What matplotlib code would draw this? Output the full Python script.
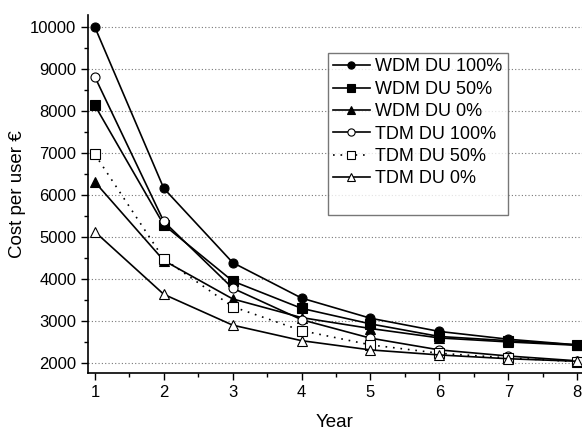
import matplotlib
matplotlib.use("Agg")
import matplotlib.pyplot as plt
from matplotlib.ticker import MultipleLocator

plt.rcParams['font.family'] = ['Liberation Sans', 'DejaVu Sans']

years = [1, 2, 3, 4, 5, 6, 7, 8]

# cost per user (EUR)
wdm_100 = [10000, 6160, 4390, 3545, 3065, 2750, 2565, 2430]
wdm_50 = [8135, 5290, 3950, 3300, 2930, 2630, 2530, 2430]
wdm_0 = [6310, 4440, 3525, 3080, 2820, 2595, 2500, 2420]
tdm_100 = [8815, 5370, 3780, 3030, 2590, 2310, 2165, 2050]
tdm_50 = [6970, 4480, 3340, 2770, 2430, 2230, 2120, 2030]
tdm_0 = [5125, 3635, 2900, 2530, 2310, 2190, 2100, 2040]

fig = plt.figure(figsize=(5.82, 4.34), dpi=100)
ax = fig.add_axes([88 / 582, 1 - 373 / 434, 1 - 88 / 582, (373 - 15) / 434])

series = [
    (wdm_100, 'o', 'black', '-', 'WDM DU 100%'),
    (wdm_50, 's', 'black', '-', 'WDM DU 50%'),
    (wdm_0, '^', 'black', '-', 'WDM DU 0%'),
    (tdm_100, 'o', 'white', '-', 'TDM DU 100%'),
    (tdm_50, 's', 'white', (0, (1, 3.5)), 'TDM DU 50%'),
    (tdm_0, '^', 'white', '-', 'TDM DU 0%'),
]

handles = []
labels = []
for vals, mk, face, ls, lab in series:
    h, = ax.plot(years, vals, marker=mk, markerfacecolor=face, markeredgecolor='black',
                 color='black', linestyle=ls, linewidth=1.2, markersize=6.5,
                 markeredgewidth=0.8, zorder=3)
    handles.append(h)
    labels.append(lab)

# extra blank row so the box has the empty space at the bottom
blank, = ax.plot([], [], color='none')
handles.append(blank)
labels.append('')

ax.set_xlim(0.9, 8.07)
ax.set_ylim(1760, 10290)
ax.xaxis.set_major_locator(MultipleLocator(1))
ax.xaxis.set_minor_locator(MultipleLocator(0.5))
ax.yaxis.set_major_locator(MultipleLocator(1000))
ax.yaxis.set_minor_locator(MultipleLocator(500))
ax.tick_params(which='major', direction='out', length=5, width=1, labelsize=12)
ax.tick_params(which='minor', direction='out', length=3, width=1)

ax.grid(axis='y', which='major', linestyle=(0, (1, 2)), color='#777777', linewidth=0.8)
ax.set_axisbelow(True)

for s in ['top', 'right']:
    ax.spines[s].set_visible(False)
for s in ['left', 'bottom']:
    ax.spines[s].set_linewidth(1.2)

ax.set_xlabel('Year', fontsize=13.5, labelpad=10)
ax.set_ylabel('Cost per user €', fontsize=13.5, labelpad=3)

leg = ax.legend(handles, labels, loc='upper left', bbox_to_anchor=((328 - 88) / 494, 1 - (53 - 15) / 358),
                fontsize=13, frameon=True, fancybox=False, edgecolor='#555555',
                handlelength=2.0, handletextpad=0.3, labelspacing=0.3, borderpad=0.3,
                borderaxespad=0, markerscale=0.8)
leg.get_frame().set_linewidth(1.0)

fig.savefig('out.png', dpi=100)
